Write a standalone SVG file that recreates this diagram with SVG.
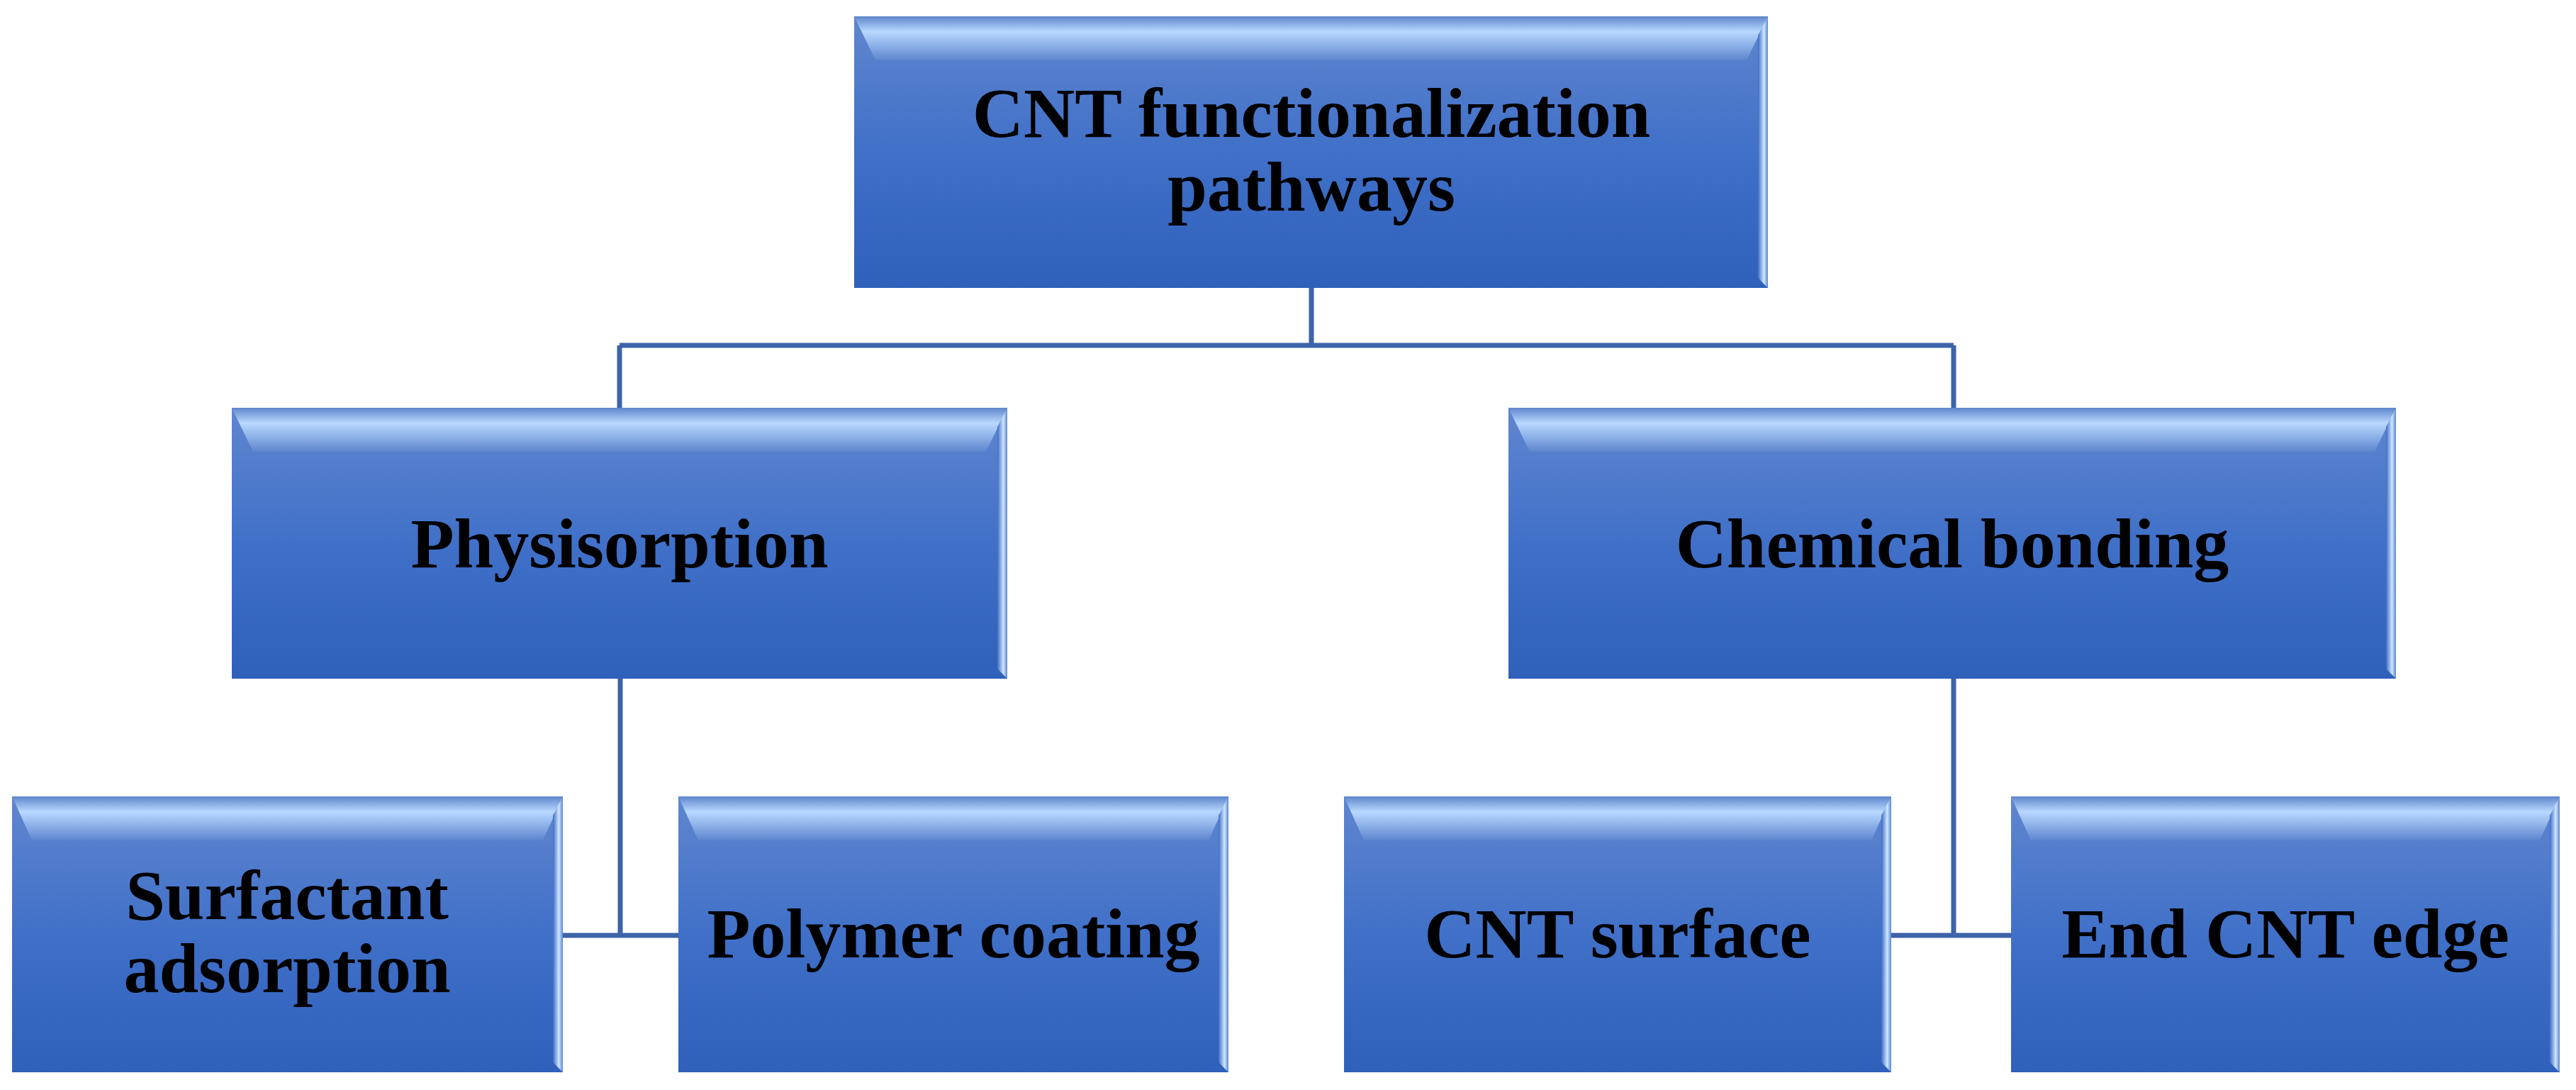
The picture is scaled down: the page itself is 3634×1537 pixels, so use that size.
<svg xmlns="http://www.w3.org/2000/svg" width="3634" height="1537" viewBox="0 0 3634 1537">
<defs>
<linearGradient id="body" x1="0" y1="0" x2="0" y2="1">
<stop offset="0" stop-color="#6086cf"/><stop offset="0.5" stop-color="#4070c8"/><stop offset="1" stop-color="#2f60ba"/>
</linearGradient>
<linearGradient id="topb" x1="0" y1="0" x2="0" y2="1">
<stop offset="0" stop-color="#5f86cc"/><stop offset="0.35" stop-color="#b8d8ff"/><stop offset="1" stop-color="#5e86cf"/>
</linearGradient>
<linearGradient id="rb" x1="0" y1="0" x2="1" y2="0">
<stop offset="0" stop-color="#3d6cc4"/><stop offset="0.6" stop-color="#cfe6ff"/><stop offset="1" stop-color="#5a86d0"/>
</linearGradient>
<linearGradient id="lb" x1="0" y1="0" x2="1" y2="0">
<stop offset="0" stop-color="#5484d6"/><stop offset="1" stop-color="#4a76c8"/>
</linearGradient>
</defs>
<style>
.t{font-family:"Liberation Serif","Times New Roman",serif;font-weight:bold;font-size:100px;fill:#000;text-anchor:middle}
.c{stroke:#3d63a8;stroke-width:7;fill:none}
</style>
<g id="connectors">
<path class="c" d="M1850 406V487M874 487H2756M874 487V575M2756 487V575"/>
<path class="c" d="M875 957V1319M794 1319H957"/>
<path class="c" d="M2756 957V1319M2668 1319H2837"/>
</g>
<g id="n-root">
<rect x="1205" y="23" width="1289" height="383" fill="url(#body)"/>
<polygon points="1205,23 2494,23 2464,85 1235,85" fill="url(#topb)"/>
<polygon points="2494,23 2494,406 2480,392 2480,50" fill="url(#rb)"/>
<text class="t" x="1850" y="193">CNT functionalization</text>
<text class="t" x="1850" y="297">pathways</text>
</g>
<g id="n-phys">
<rect x="327" y="575" width="1094" height="382" fill="url(#body)"/>
<polygon points="327,575 1421,575 1391,637 357,637" fill="url(#topb)"/>
<polygon points="1421,575 1421,957 1407,943 1407,602" fill="url(#rb)"/>
<text class="t" x="874" y="800">Physisorption</text>
</g>
<g id="n-chem">
<rect x="2128" y="575" width="1252" height="382" fill="url(#body)"/>
<polygon points="2128,575 3380,575 3350,637 2158,637" fill="url(#topb)"/>
<polygon points="3380,575 3380,957 3366,943 3366,602" fill="url(#rb)"/>
<text class="t" x="2754" y="800">Chemical bonding</text>
</g>
<g id="n-surf">
<rect x="17" y="1123" width="777" height="389" fill="url(#body)"/>
<polygon points="17,1123 794,1123 766,1185 45,1185" fill="url(#topb)"/>
<polygon points="794,1123 794,1512 780,1498 780,1150" fill="url(#rb)"/>
<text class="t" x="405" y="1296">Surfactant</text>
<text class="t" x="405" y="1399">adsorption</text>
</g>
<g id="n-poly">
<rect x="957" y="1123" width="776" height="389" fill="url(#body)"/>
<polygon points="957,1123 1733,1123 1705,1185 985,1185" fill="url(#topb)"/>
<polygon points="1733,1123 1733,1512 1719,1498 1719,1150" fill="url(#rb)"/>
<text class="t" x="1345" y="1350">Polymer coating</text>
</g>
<g id="n-cntsurf">
<rect x="1896" y="1123" width="772" height="389" fill="url(#body)"/>
<polygon points="1896,1123 2668,1123 2640,1185 1924,1185" fill="url(#topb)"/>
<polygon points="2668,1123 2668,1512 2654,1498 2654,1150" fill="url(#rb)"/>
<text class="t" x="2282" y="1350">CNT surface</text>
</g>
<g id="n-end">
<rect x="2837" y="1123" width="774" height="389" fill="url(#body)"/>
<polygon points="2837,1123 3611,1123 3583,1185 2865,1185" fill="url(#topb)"/>
<polygon points="3611,1123 3611,1512 3597,1498 3597,1150" fill="url(#rb)"/>
<text class="t" x="3224" y="1350">End CNT edge</text>
</g>
</svg>
